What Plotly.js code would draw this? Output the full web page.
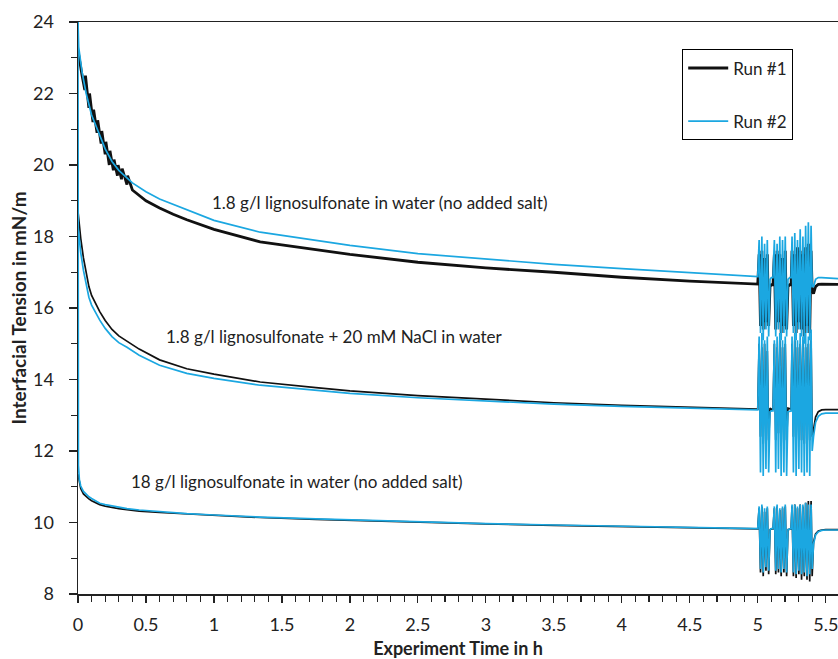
<!DOCTYPE html>
<html>
<head>
<meta charset="utf-8">
<script src="https://cdn.plot.ly/plotly-3.0.1.min.js"></script>
<style>html,body{margin:0;padding:0;background:#fff;}#chart{width:838px;height:659px;}</style>
</head>
<body>
<div id="chart"></div>
<script>
// ---------- DATA ----------
var seriesNames = ["Run #1", "Run #2"];
var curveLabels = [
  "1.8 g/l lignosulfonate in water (no added salt)",
  "1.8 g/l lignosulfonate + 20 mM NaCl in water",
  "18 g/l lignosulfonate in water (no added salt)"
];

// common time grid (h) for the smooth decay parts
var timeMain = [0, 0.01, 0.02, 0.04, 0.06, 0.08, 0.1, 0.13, 0.16, 0.2, 0.25, 0.3, 0.36, 0.45, 0.6, 0.8, 1.0, 1.34, 1.75, 2.0, 2.5, 3.0, 3.5, 4.0, 4.5, 5.0];

// group 1, run #1 (noisy early part)
var timeG1Run1 = [0, 0.01, 0.03, 0.05, 0.055, 0.08, 0.085, 0.11, 0.115, 0.14, 0.145, 0.17, 0.175, 0.2, 0.205, 0.23, 0.235, 0.26, 0.265, 0.29, 0.295, 0.32, 0.325, 0.36, 0.365, 0.4, 0.45, 0.5, 0.6, 0.7, 0.8, 0.9, 1.0, 1.34, 1.75, 2.0, 2.5, 3.0, 3.5, 4.0, 4.5, 5.0];
var g1Run1 = [23.2, 22.95, 22.5, 22.1, 22.5, 21.6, 22.0, 21.2, 21.55, 20.9, 21.25, 20.6, 20.95, 20.3, 20.65, 20.0, 20.4, 19.85, 20.15, 19.7, 20.0, 19.6, 19.9, 19.45, 19.7, 19.3, 19.15, 19.0, 18.8, 18.62, 18.47, 18.33, 18.2, 17.85, 17.62, 17.5, 17.28, 17.12, 17.0, 16.86, 16.75, 16.67];

var timeG1Run2 = [0, 0.005, 0.03, 0.06, 0.1, 0.15, 0.2, 0.25, 0.3, 0.4, 0.5, 0.6, 0.7, 0.8, 1.0, 1.34, 1.75, 2.0, 2.5, 3.0, 3.5, 4.0, 4.5, 5.0];
var g1Run2 = [24.0, 23.3, 22.6, 22.0, 21.4, 20.9, 20.45, 20.1, 19.85, 19.5, 19.25, 19.05, 18.9, 18.75, 18.45, 18.12, 17.88, 17.75, 17.52, 17.36, 17.22, 17.1, 16.98, 16.88];

var g2Run1 = [18.7, 18.3, 17.95, 17.4, 16.95, 16.6, 16.35, 16.1, 15.9, 15.65, 15.4, 15.22, 15.08, 14.85, 14.55, 14.3, 14.15, 13.93, 13.77, 13.68, 13.55, 13.44, 13.35, 13.28, 13.22, 13.17];
var g2Run2 = [18.3, 17.9, 17.55, 17.05, 16.65, 16.3, 16.08, 15.85, 15.66, 15.43, 15.2, 15.03, 14.9, 14.68, 14.4, 14.17, 14.03, 13.84, 13.69, 13.61, 13.49, 13.39, 13.31, 13.25, 13.19, 13.15];

var g3Run1 = [11.35, 11.1, 10.95, 10.8, 10.72, 10.66, 10.61, 10.55, 10.5, 10.46, 10.42, 10.39, 10.36, 10.32, 10.28, 10.24, 10.2, 10.14, 10.09, 10.06, 10.01, 9.96, 9.92, 9.88, 9.85, 9.82];
var timeG3Run2 = [0, 0.003, 0.01, 0.02, 0.04, 0.06, 0.08, 0.1, 0.13, 0.16, 0.2, 0.25, 0.3, 0.36, 0.45, 0.6, 0.8, 1.0, 1.34, 1.75, 2.0, 2.5, 3.0, 3.5, 4.0, 4.5, 5.0];
var g3Run2 = [24.0, 11.6, 11.2, 11.02, 10.87, 10.78, 10.72, 10.67, 10.6, 10.54, 10.5, 10.46, 10.43, 10.39, 10.35, 10.3, 10.25, 10.21, 10.15, 10.1, 10.07, 10.02, 9.97, 9.93, 9.89, 9.86, 9.83];

// disturbance period (h): three bursts of oscillation, with calm gaps between
var burstTime = [5.000, 5.010, 5.020, 5.030, 5.040, 5.050, 5.060, 5.070, 5.080, 5.090,
  5.100, 5.112,
  5.122, 5.132, 5.142, 5.152, 5.162, 5.172, 5.182, 5.192, 5.202, 5.212, 5.222,
  5.235, 5.245,
  5.252, 5.262, 5.272, 5.282, 5.292, 5.302, 5.312, 5.322, 5.332, 5.342, 5.352, 5.362, 5.372, 5.382, 5.392, 5.400];
var g1Run1Burst = [16.7, 17.5, 15.5, 17.6, 15.4, 17.4, 15.6, 17.5, 15.5, 16.6,
  16.65, 16.65,
  17.5, 15.4, 17.6, 15.6, 17.5, 15.3, 17.4, 15.5, 17.6, 15.4, 16.6,
  16.65, 16.65,
  17.6, 15.5, 17.5, 15.3, 17.7, 15.6, 17.6, 15.4, 17.5, 15.2, 17.7, 15.5, 17.8, 15.3, 17.6, 16.5];
var g1Run2Burst = [16.9, 17.9, 15.3, 18.0, 15.1, 17.8, 15.4, 17.9, 15.2, 16.8,
  16.85, 16.85,
  17.9, 15.2, 17.8, 15.4, 18.0, 15.1, 17.9, 15.3, 18.0, 15.2, 16.8,
  16.85, 16.85,
  18.0, 15.3, 18.1, 15.1, 17.9, 15.4, 18.2, 15.2, 18.0, 15.0, 18.3, 15.3, 18.4, 15.1, 18.3, 16.6];
var g2Run1Burst = [13.2, 15.0, 12.4, 14.9, 12.2, 15.0, 12.5, 14.8, 12.3, 13.2,
  13.17, 13.17,
  15.0, 12.3, 14.9, 12.5, 15.1, 12.2, 14.9, 12.4, 15.0, 12.3, 13.2,
  13.17, 13.17,
  15.0, 12.4, 15.1, 12.2, 14.9, 12.5, 15.0, 12.3, 15.1, 12.2, 14.9, 12.4, 15.0, 12.3, 15.1, 12.4];
var g2Run2Burst = [13.2, 15.2, 11.4, 15.3, 11.3, 15.1, 11.5, 15.2, 11.4, 13.1,
  13.12, 13.12,
  15.1, 11.4, 15.2, 11.5, 15.3, 11.3, 15.1, 11.4, 15.2, 11.3, 13.1,
  13.12, 13.12,
  15.2, 11.4, 15.3, 11.3, 15.1, 11.5, 15.3, 11.4, 15.2, 11.3, 15.3, 11.4, 15.2, 11.3, 15.4, 12.0];
var g3Run1Burst = [9.85, 10.4, 8.6, 10.45, 8.5, 10.3, 8.65, 10.4, 8.55, 9.8,
  9.82, 9.82,
  10.4, 8.55, 10.45, 8.6, 10.35, 8.5, 10.4, 8.6, 10.45, 8.5, 9.8,
  9.82, 9.82,
  10.45, 8.5, 10.5, 8.45, 10.4, 8.55, 10.5, 8.4, 10.45, 8.5, 10.55, 8.4, 10.6, 8.35, 10.6, 8.5];
var g3Run2Burst = [9.85, 10.45, 8.7, 10.5, 8.6, 10.4, 8.75, 10.45, 8.65, 9.8,
  9.83, 9.83,
  10.45, 8.65, 10.5, 8.7, 10.4, 8.6, 10.45, 8.7, 10.5, 8.6, 9.8,
  9.83, 9.83,
  10.5, 8.6, 10.5, 8.55, 10.45, 8.65, 10.5, 8.55, 10.5, 8.6, 10.55, 8.5, 10.5, 8.55, 10.5, 8.7];

// recovery after the disturbance
var timeTail = [5.41, 5.425, 5.445, 5.47, 5.5, 5.59];
var g1Run1Tail = [16.4, 16.6, 16.66, 16.67, 16.67, 16.66];
var g1Run2Tail = [16.6, 16.8, 16.85, 16.85, 16.84, 16.82];
var g2Run1Tail = [12.6, 12.95, 13.1, 13.15, 13.16, 13.16];
var g2Run2Tail = [12.4, 12.8, 12.97, 13.04, 13.06, 13.06];
var g3Run1Tail = [9.45, 9.68, 9.76, 9.79, 9.8, 9.8];
var g3Run2Tail = [9.4, 9.65, 9.74, 9.78, 9.79, 9.79];

// axis ticks
var xTickVals = [0, 0.5, 1, 1.5, 2, 2.5, 3, 3.5, 4, 4.5, 5, 5.5];
var xTickText = ["0", "0.5", "1", "1.5", "2", "2.5", "3", "3.5", "4", "4.5", "5", "5.5"];
var yTickVals = [8, 10, 12, 14, 16, 18, 20, 22, 24];

// ---------- STYLE ----------
var black = "#111111";
var blue = "#1BA7E1";
var fontFam = "Lato, 'Open Sans', sans-serif";

function series(t, v, tb, vb, tt, vt) { return { x: t.concat(tb, tt), y: v.concat(vb, vt) }; }

var s = [
  series(timeG1Run1, g1Run1, burstTime, g1Run1Burst, timeTail, g1Run1Tail),
  series(timeMain, g2Run1, burstTime, g2Run1Burst, timeTail, g2Run1Tail),
  series(timeMain, g3Run1, burstTime, g3Run1Burst, timeTail, g3Run1Tail),
  series(timeG1Run2, g1Run2, burstTime, g1Run2Burst, timeTail, g1Run2Tail),
  series(timeMain, g2Run2, burstTime, g2Run2Burst, timeTail, g2Run2Tail),
  series(timeG3Run2, g3Run2, burstTime, g3Run2Burst, timeTail, g3Run2Tail)
];

var traces = s.map(function (d, i) {
  var run = i < 3 ? 0 : 1;
  return {
    type: "scatter", mode: "lines", x: d.x, y: d.y,
    name: seriesNames[run], legendgroup: "run" + run,
    showlegend: (i % 3) === 0,
    line: { color: run === 0 ? black : blue, width: (i === 0 ? 2.8 : 1.7) },
    hoverinfo: "skip"
  };
});

var layout = {
  width: 838, height: 659,
  margin: { l: 78, r: 0, t: 22, b: 65, pad: 0 },
  paper_bgcolor: "#fff", plot_bgcolor: "#fff",
  font: { family: fontFam, color: "#222", size: 18 },
  showlegend: true,
  legend: {
    x: 0.795, y: 0.952, xanchor: "left", yanchor: "top",
    bordercolor: "#000", borderwidth: 1, bgcolor: "#fff",
    font: { family: fontFam, size: 17, color: "#222" },
    traceorder: "grouped", tracegroupgap: 28, itemwidth: 40
  },
  xaxis: {
    range: [0, 5.59], showgrid: false, zeroline: false,
    showline: true, linecolor: "#222", linewidth: 1.5, mirror: true,
    ticks: "outside", ticklen: 7, tickwidth: 1.2, tickcolor: "#222",
    tickvals: xTickVals, ticktext: xTickText, ticklabeloverflow: "allow", ticklabelstandoff: 7,
    minor: { dtick: 0.1, ticks: "outside", ticklen: 6, tickwidth: 1.2, tickcolor: "#222", showgrid: false },
    title: { text: "<b>Experiment Time in h</b>", font: { family: fontFam, size: 18, color: "#222" }, standoff: 31 }
  },
  yaxis: {
    range: [8, 24], showgrid: false, zeroline: false,
    showline: true, linecolor: "#222", linewidth: 1.5,
    ticks: "outside", ticklen: 8, tickwidth: 1.2, tickcolor: "#222",
    tickvals: yTickVals, ticklabelstandoff: 11,
    minor: { dtick: 1, ticks: "outside", ticklen: 6, tickwidth: 1.2, tickcolor: "#222", showgrid: false },
    title: { text: "<b>Interfacial Tension in mN/m</b>", font: { family: fontFam, size: 19, color: "#222" }, standoff: 1 }
  },
  annotations: [
    { x: 2.22, y: 18.94, text: curveLabels[0], showarrow: false, font: { family: fontFam, size: 17, color: "#222" } },
    { x: 1.89, y: 15.19, text: curveLabels[1], showarrow: false, font: { family: fontFam, size: 17, color: "#222" } },
    { x: 1.61, y: 11.16, text: curveLabels[2], showarrow: false, font: { family: fontFam, size: 17, color: "#222" } }
  ]
};

Plotly.newPlot("chart", traces, layout, { staticPlot: true, displayModeBar: false });
</script>
</body>
</html>
